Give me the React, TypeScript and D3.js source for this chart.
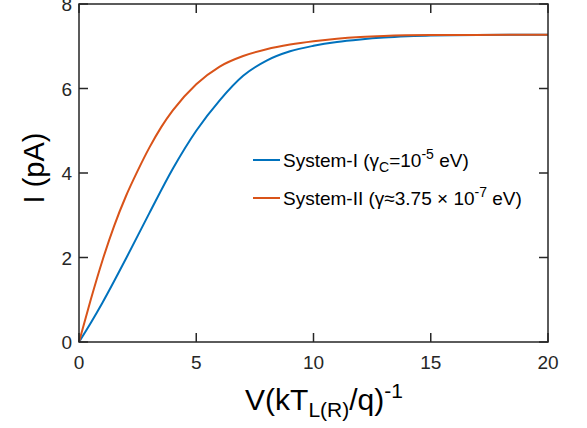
import React from "react";
import * as d3 from "d3";

const blueX = [0, 0.5, 1, 2, 3, 4, 5, 6, 7, 8, 9, 10, 11, 12, 13, 14, 15, 17, 20];
const blueY = [0, 0.45, 0.93, 1.97, 3.05, 4.1, 5.0, 5.72, 6.3, 6.66, 6.88, 7.01, 7.1, 7.16, 7.205, 7.235, 7.255, 7.268, 7.272];
const orangeX = [0, 0.5, 1, 1.5, 2, 2.5, 3, 3.5, 4, 5, 6, 7, 8, 9, 10, 11, 12, 13, 15, 20];
const orangeY = [0, 1.0, 1.93, 2.75, 3.45, 4.05, 4.6, 5.08, 5.48, 6.1, 6.52, 6.77, 6.93, 7.04, 7.12, 7.18, 7.22, 7.245, 7.265, 7.272];
const xTicks = [0, 5, 10, 15, 20];
const yTicks = [0, 2, 4, 6, 8];

const W = 587, H = 428;
const L = 79, R = 548, T = 4, B = 342;
const axisColor = "#262626";
const font = "'Liberation Sans', Arial, Helvetica, sans-serif";

export default function App() {
  const x = d3.scaleLinear().domain([0, 20]).range([L, R]);
  const y = d3.scaleLinear().domain([0, 8]).range([B, T]);
  const line = d3.line<[number, number]>().x(d => x(d[0])).y(d => y(d[1])).curve(d3.curveMonotoneX);
  const blue = blueX.map((v, i) => [v, blueY[i]] as [number, number]);
  const orange = orangeX.map((v, i) => [v, orangeY[i]] as [number, number]);
  const tl = 9;
  return (
    <svg width={W} height={H} style={{ position: "absolute", left: 0, top: 0, background: "#fff" }} fontFamily={font}>
      <rect x={0} y={0} width={W} height={H} fill="#fff" />
      <path d={line(blue) || ""} fill="none" stroke="#0072BD" strokeWidth={2} />
      <path d={line(orange) || ""} fill="none" stroke="#D95319" strokeWidth={2} />
      <rect x={L} y={T} width={R - L} height={B - T} fill="none" stroke={axisColor} strokeWidth={1.5} />
      {xTicks.map(t => (
        <g key={"x" + t}>
          <line x1={x(t)} x2={x(t)} y1={B} y2={B - tl} stroke={axisColor} strokeWidth={1.5} />
          <line x1={x(t)} x2={x(t)} y1={T} y2={T + tl} stroke={axisColor} strokeWidth={1.5} />
          <text x={x(t)} y={369} textAnchor="middle" fontSize={19} fill={axisColor}>{t}</text>
        </g>
      ))}
      {yTicks.map(t => (
        <g key={"y" + t}>
          <line x1={L} x2={L + tl} y1={y(t)} y2={y(t)} stroke={axisColor} strokeWidth={1.5} />
          <line x1={R} x2={R - tl} y1={y(t)} y2={y(t)} stroke={axisColor} strokeWidth={1.5} />
          <text x={72} y={y(t) + 7} textAnchor="end" fontSize={19} fill={axisColor}>{t}</text>
        </g>
      ))}
      <text x={324} y={410} textAnchor="middle" fontSize={30} fill="#000">
        V(kT<tspan fontSize={21} dy={7}>L(R)</tspan><tspan dy={-7}>/q)</tspan><tspan fontSize={21} dy={-12}>-1</tspan>
      </text>
      <text transform="translate(44,168) rotate(-90)" textAnchor="middle" fontSize={29} fill="#000">I (pA)</text>
      <g fontSize={19} fill="#000">
        <line x1={253} x2={280} y1={160} y2={160} stroke="#0072BD" strokeWidth={2} />
        <text x={283} y={166.5}>System-I (<tspan>γ</tspan><tspan fontSize={14} dy={5}>C</tspan><tspan dy={-5}>=10</tspan><tspan fontSize={14} dy={-8}>-5</tspan><tspan dy={8}> eV)</tspan></text>
        <line x1={253} x2={280} y1={198} y2={198} stroke="#D95319" strokeWidth={2} />
        <text x={283} y={204.5}>System-II (γ≈3.75 × 10<tspan fontSize={14} dy={-8}>-7</tspan><tspan dy={8}> eV)</tspan></text>
      </g>
    </svg>
  );
}
